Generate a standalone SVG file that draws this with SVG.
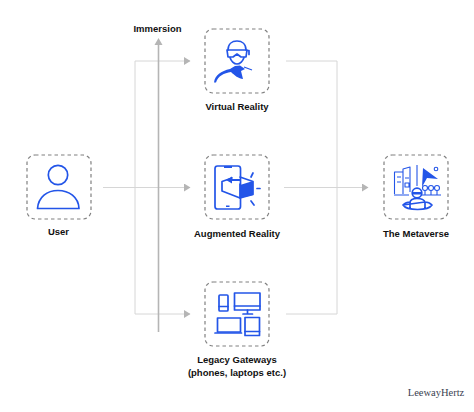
<svg xmlns="http://www.w3.org/2000/svg" width="474" height="412" viewBox="0 0 474 412">
<defs>
<marker id="ah" markerUnits="userSpaceOnUse" markerWidth="7" markerHeight="8" refX="6" refY="4" orient="auto"><path d="M0 0L6.500 4L0 8Z" fill="#b5b5b5"/></marker>
</defs>
<style>
.box{fill:#fff;stroke:#808080;stroke-width:1.200;stroke-dasharray:3.500 3}
.l{font:bold 9.500px "Liberation Sans",Arial,sans-serif;fill:#111;text-anchor:middle}
.c{fill:none;stroke:#d6d6d6;stroke-width:1}
.i{fill:none;stroke:#2355e8;stroke-width:1.700;stroke-linejoin:round;stroke-linecap:round}
.t{fill:none;stroke:#2355e8;stroke-width:1.100;stroke-linejoin:round}
.f{fill:#2355e8}
</style>
<rect width="474" height="412" fill="#fff"/>
<g id="connectors">
<path class="c" d="M103 187.500H190" marker-end="url(#ah)"/>
<path class="c" d="M135 187.500V61H190" marker-end="url(#ah)"/>
<path class="c" d="M135 187.500V314H190" marker-end="url(#ah)"/>
<path class="c" d="M286 61H337V314H286"/>
<path class="c" d="M284 187.500H368" marker-end="url(#ah)"/>
<path d="M158.500 332V40" fill="none" stroke="#b5b5b5" stroke-width="1.600"/>
<path d="M154.500 45L158.500 38L162.500 45Z" fill="#b5b5b5"/>
</g>
<text x="157.500" y="32" class="l">Immersion</text>
<g id="user">
<rect class="box" x="27" y="155" width="64" height="64" rx="8"/>
<circle class="i" cx="58" cy="175" r="9.700"/>
<path class="i" d="M37.500 208.500C38.500 197 47 190.500 58 190.500S78.500 197 79 208.500Z"/>
<text x="58.500" y="235" class="l">User</text>
</g>
<g id="virtual-reality">
<rect class="box" x="205" y="29" width="64" height="64" rx="8"/>
<path class="i" d="M228 50C228 44 232 41 237 41S246 44 246 50"/>
<path class="i" d="M227 50H247L246 57H241L237 54L233 57H228Z"/>
<path class="i" d="M247 50.500H249V54.500M230 57.500C231 61 234 64 237 64S243 61 244 57.500"/>
<path class="f" d="M214 82.500C215 75 221 71 230 69L235 66L240 65.500L245 69L241 71L243 79C239 79 234 75 231 72C224 73 218 76 216 82.500Z"/>
<path class="t" d="M244 67L252 70"/>
<text x="237" y="110" class="l">Virtual Reality</text>
</g>
<g id="augmented-reality">
<rect class="box" x="205" y="155" width="64" height="64" rx="8"/>
<rect class="i" x="215" y="166" width="25.500" height="43" rx="2.500"/>
<path class="f" d="M224 166H232V168H224ZM226 205.500H229.500V207H226Z"/>
<path class="i" d="M222 181.500L232 178M222 181.500V191L240 198L253 194.500V181.500L240 177"/>
<path class="f" d="M240 185L253 181V195L240 198Z"/>
<path class="f" d="M226 180L232 176.500V179H240V181H232V183.500Z"/>
<path class="i" d="M240 184V198M251 177L253 173M257 188.500H260M251 201L254 205"/>
<text x="237" y="237" class="l">Augmented Reality</text>
</g>
<g id="legacy-gateways">
<rect class="box" x="205" y="282" width="64" height="64" rx="8"/>
<rect class="i" x="219" y="295" width="9" height="16" rx="1"/>
<path class="i" d="M219 306.500H228"/>
<rect class="i" x="234.500" y="293" width="25.500" height="17"/>
<path class="i" d="M234.500 306H260M247.500 310V313.500M243 314H252.500"/>
<rect class="i" x="217.500" y="318" width="23" height="14"/>
<path class="i" d="M215 333H241.500"/>
<rect class="i" x="245" y="317.500" width="14.500" height="18"/>
<path class="i" d="M245 331.500H259.500"/>
<text x="237" y="363" class="l">Legacy Gateways</text>
<text x="237" y="376" class="l">(phones, laptops etc.)</text>
</g>
<g id="metaverse">
<rect class="box" x="384" y="155" width="64" height="64" rx="8"/>
<path class="t" d="M394.500 194V172H403M403 194V169L410 167V192M417 165V186M397 177H401M397 182H401M405 178H409M405 183H409V187H405ZM394 195H409"/>
<path class="f" d="M423 168L422 187L427 178L438 179Z"/>
<circle class="t" cx="436" cy="169" r="1.800"/>
<g class="t"><circle cx="425" cy="188" r="2.500"/><circle cx="431" cy="188" r="2.500"/><circle cx="437" cy="188" r="2.500"/><path d="M425 190.500V195M431 190.500V195M437 190.500V195M421 195H441"/></g>
<path class="i" stroke-width="1.300" d="M410 208V203C410 200 413 198.500 417 198.500S425 200 425 203V208M403 205C405 203 408 202 410 202M425 202C428 202 430 203 432 205C430 208 425 209.500 417.500 209.500S405 208 403 205Z"/>
<circle class="i" stroke-width="1.300" cx="417" cy="193" r="4.800"/>
<path class="f" d="M412.500 192H421.500V194.500H412.500Z"/>
<text x="416" y="237" class="l">The Metaverse</text>
</g>
<text x="436" y="396" font-family="Liberation Serif,serif" font-size="10.500" fill="#3a4150" text-anchor="middle">LeewayHertz</text>
</svg>
